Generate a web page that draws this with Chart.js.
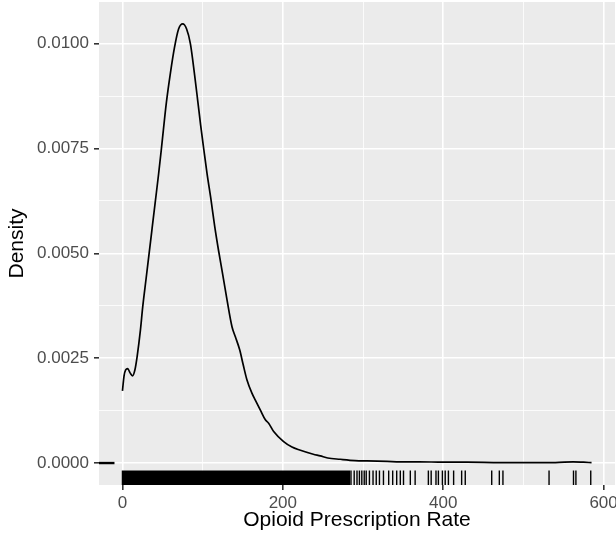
<!DOCTYPE html>
<html>
<head>
<meta charset="utf-8">
<script src="https://cdn.jsdelivr.net/npm/chart.js@4.4.1/dist/chart.umd.min.js"></script>
<style>
  html, body { margin: 0; padding: 0; background: #ffffff; }
  #wrap { width: 616px; height: 540px; position: relative; }
</style>
</head>
<body>
<div id="wrap"><canvas id="chart"></canvas></div>
<script>
// Density curve (rate, density)
const rateX = [0, 2, 4, 6.5, 9.5, 12.5, 15.5, 18.3, 22.4, 25.3, 29.5, 33, 37, 41, 45, 48.6,
  54.8, 59.8, 64.8, 70, 75.2, 80, 84.7, 90, 94, 97.5, 101.3, 105.5, 110.5, 115, 120,
  125, 130.4, 136.6, 140.8, 146.2, 150.5, 155.3, 161.6, 165.7, 172, 178.2, 182.3, 188.6,
  201, 211.4, 221, 238, 246.7, 256, 271.6, 290, 305, 330, 346, 370, 400, 430, 471, 510,
  540, 562, 575, 585];
const densityY = [0.00172, 0.00208, 0.00222, 0.00225, 0.00215, 0.00208, 0.00222, 0.00254, 0.00317, 0.00373, 0.00440, 0.00496, 0.0056, 0.00624, 0.00688, 0.0075,
  0.0086, 0.0093, 0.0099, 0.01035, 0.01047, 0.01035, 0.0100, 0.00925, 0.00862, 0.00806, 0.0075, 0.0069, 0.00627, 0.00565, 0.00505,
  0.0045, 0.00389, 0.00325, 0.00301, 0.0027, 0.00235, 0.00198, 0.00166, 0.0015, 0.00126, 0.00103, 0.00095, 0.00075,
  0.00051, 0.00038, 0.00031, 0.00021, 0.00017, 0.00012, 0.00009, 0.00006, 0.00005, 0.00004, 0.00003, 0.00003, 0.00002, 0.00002, 0.00001, 0.00001,
  0.00001, 0.00003, 0.00002, 0.00001];

// Rug: solid band where observations are too dense to separate, then single ticks
const rugBand = [0, 283];
const rugTicks = [285, 289, 292.5, 295.5, 298.5, 301.5, 304, 308, 312.5, 316.5, 320.5, 325.5, 332,
  337, 342, 346.5, 350.5, 359, 365, 381.5, 385, 391, 394, 399, 402.5, 406.5, 413, 423, 427.5,
  460.5, 470, 474.5, 532, 562.5, 565.5, 584];
const rugY = [0];

// Axis ticks
const xMajorTicks = [0, 200, 400, 600];
const xMinorTicks = [100, 300, 500];
const yMajorTicks = [0, 0.0025, 0.005, 0.0075, 0.01];
const yMinorTicks = [0.00125, 0.00375, 0.00625, 0.00875];

// ggplot style 5% expansion of the data range
const xLo = Math.min(...rateX, rugBand[0]), xHi = Math.max(...rateX, ...rugTicks);
const yLo = Math.min(0, ...rugY), yHi = Math.max(...densityY);
const xPad = (xHi - xLo) * 0.05, yPad = (yHi - yLo) * 0.05;

const FONT = '"Liberation Sans", Arial, Helvetica, sans-serif';

function isMajor(list, v) {
  return list.some(m => Math.abs(m - v) < 1e-9);
}

const panelBg = {
  id: 'panelBg',
  beforeDraw(chart) {
    const { ctx, chartArea: a } = chart;
    ctx.save();
    ctx.fillStyle = '#EBEBEB';
    ctx.fillRect(a.left, a.top, a.right - a.left, a.bottom - a.top);
    ctx.restore();
  }
};

const rug = {
  id: 'rug',
  afterDatasetsDraw(chart) {
    const { ctx, chartArea: a, scales: { x, y } } = chart;
    const len = (a.bottom - a.top) * 0.03;
    const lenX = (a.right - a.left) * 0.03;
    ctx.save();
    ctx.beginPath();
    ctx.rect(a.left, a.top, a.right - a.left, a.bottom - a.top);
    ctx.clip();
    ctx.fillStyle = '#000000';
    // dense band
    const b0 = x.getPixelForValue(rugBand[0]) - 0.7;
    const b1 = x.getPixelForValue(rugBand[1]) + 0.7;
    ctx.fillRect(b0, a.bottom - len, b1 - b0, len);
    // single ticks
    ctx.strokeStyle = '#000000';
    ctx.lineWidth = 1.4;
    rugTicks.forEach(v => {
      const px = x.getPixelForValue(v);
      ctx.beginPath();
      ctx.moveTo(px, a.bottom);
      ctx.lineTo(px, a.bottom - len);
      ctx.stroke();
    });
    // left rug for the y values
    ctx.lineWidth = 2.4;
    rugY.forEach(v => {
      const py = y.getPixelForValue(v);
      ctx.beginPath();
      ctx.moveTo(a.left, py);
      ctx.lineTo(a.left + lenX, py);
      ctx.stroke();
    });
    ctx.restore();
  }
};

window.onload = function() {
  const ctx = document.getElementById('chart').getContext('2d');
  new Chart(ctx, {
    type: 'line',
    data: {
      datasets: [{
        data: rateX.map((v, i) => ({ x: v, y: densityY[i] })),
        borderColor: '#000000',
        borderWidth: 1.7,
        pointRadius: 0,
        fill: false,
        cubicInterpolationMode: 'monotone'
      }]
    },
    options: {
      responsive: true,
      maintainAspectRatio: false,
      animation: false,
      devicePixelRatio: 1,
      layout: { padding: { top: 2, right: 1, left: 0, bottom: 0 } },
      plugins: { legend: { display: false }, tooltip: { enabled: false } },
      scales: {
        x: {
          type: 'linear',
          min: xLo - xPad,
          max: xHi + xPad,
          afterFit: s => {
            s.height = 55;
            s.paddingLeft = 0;
            s.paddingRight = 0;
          },
          afterBuildTicks: s => {
            s.ticks = [...xMajorTicks, ...xMinorTicks].sort((a, b) => a - b).map(v => ({ value: v }));
          },
          border: { display: false },
          grid: {
            color: '#FFFFFF',
            lineWidth: c => isMajor(xMajorTicks, c.tick.value) ? 1.6 : 0.8,
            tickLength: 5,
            tickWidth: 1.6,
            tickColor: c => isMajor(xMajorTicks, c.tick.value) ? '#333333' : 'rgba(0,0,0,0)'
          },
          ticks: {
            autoSkip: false,
            maxRotation: 0,
            padding: 3,
            color: '#4D4D4D',
            font: { family: FONT, size: 17 },
            callback: v => isMajor(xMajorTicks, v) ? String(v) : ''
          },
          title: {
            display: true,
            text: 'Opioid Prescription Rate',
            color: '#000000',
            font: { family: FONT, size: 21 },
            padding: { top: 0, bottom: 7 }
          }
        },
        y: {
          type: 'linear',
          min: yLo - yPad,
          max: yHi + yPad,
          afterFit: s => {
            s.width = 99;
            s.paddingTop = 0;
            s.paddingBottom = 0;
          },
          afterBuildTicks: s => {
            s.ticks = [...yMajorTicks, ...yMinorTicks].sort((a, b) => a - b).map(v => ({ value: v }));
          },
          border: { display: false },
          grid: {
            color: '#FFFFFF',
            lineWidth: c => isMajor(yMajorTicks, c.tick.value) ? 1.6 : 0.8,
            tickLength: 5,
            tickWidth: 1.6,
            tickColor: c => isMajor(yMajorTicks, c.tick.value) ? '#333333' : 'rgba(0,0,0,0)'
          },
          ticks: {
            autoSkip: false,
            padding: 5,
            color: '#4D4D4D',
            font: { family: FONT, size: 17 },
            callback: v => isMajor(yMajorTicks, v) ? v.toFixed(4) : ''
          },
          title: {
            display: true,
            text: 'Density',
            color: '#000000',
            font: { family: FONT, size: 21 },
            padding: { top: 5, bottom: 0 }
          }
        }
      }
    },
    plugins: [panelBg, rug]
  });
};
</script>
</body>
</html>
